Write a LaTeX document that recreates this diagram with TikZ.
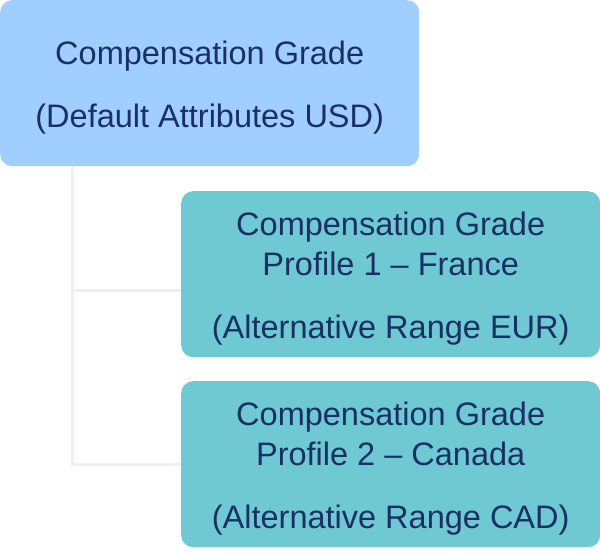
\documentclass[tikz,border=0pt]{standalone}
\usepackage{fontspec}
\setmainfont{Liberation Sans}
\definecolor{gradeblue}{HTML}{A0CFFF}
\definecolor{profteal}{HTML}{6FC9D3}
\definecolor{inkblue}{HTML}{1A2F63}
\definecolor{linegray}{HTML}{EEEFF4}
\newcommand{\toppad}{\rule{0pt}{32pt}}
\tikzset{
  gradebox/.style={rectangle, rounded corners=12pt, anchor=north west, inner sep=0pt,
    text=inkblue, align=center, font=\fontsize{32.5}{40}\selectfont},
  branch/.style={draw=linegray, line width=3pt}
}
\begin{document}
\begin{tikzpicture}[x=1pt,y=-1pt]
\useasboundingbox (0,0) rectangle (600,554);
\node[gradebox, fill=gradeblue, minimum width=419pt, minimum height=166pt] (grade) at (0,0)
  {\toppad Compensation Grade\\[23pt](Default Attributes USD)};
\node[gradebox, fill=profteal, minimum width=419pt, minimum height=166pt] (france) at (181,191)
  {\toppad Compensation Grade\\Profile 1 – France\\[23pt](Alternative Range EUR)};
\node[gradebox, fill=profteal, minimum width=419pt, minimum height=166pt] (canada) at (181,381)
  {\toppad Compensation Grade\\Profile 2 – Canada\\[23pt](Alternative Range CAD)};
\coordinate (trunk) at (72,166);
\draw[branch] (trunk) |- ([yshift=-16pt]france.west);
\draw[branch] (trunk) |- (canada.west);
\end{tikzpicture}
\end{document}
